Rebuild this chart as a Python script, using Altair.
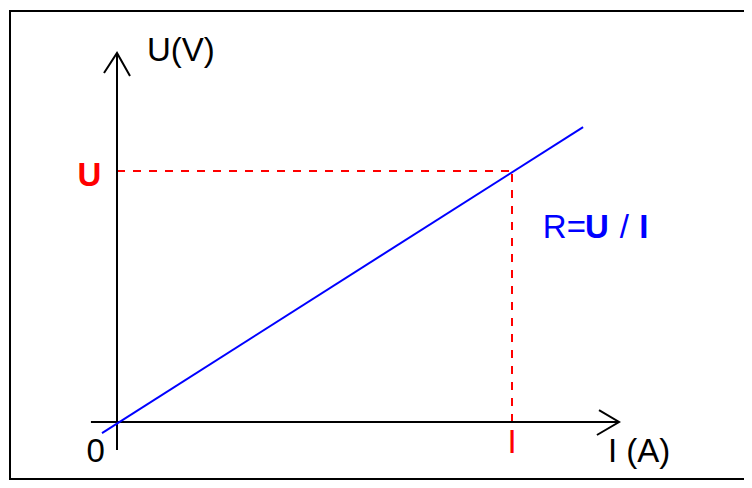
import altair as alt
import pandas as pd

# Data units: I in "I-units", U in "U-units" (working point at I=1, U=1)
line_I = [-0.038, 1.18]
line_U = [-0.044, 1.175]

work_I = 1.0
work_U = 1.0

# axis extents (data units)
xaxis_I = [-0.066, 1.271]
yaxis_U = [-0.112, 1.470]

# labels
labels = pd.DataFrame({
    "I": [0.076, -0.070, -0.054, 1.243, 1.0, 1.078, 1.185, 1.273, 1.322],
    "U": [1.438, 0.940, -0.159, -0.159, -0.1235, 0.733, 0.733, 0.733, 0.733],
    "text": ["U(V)", "U", "0", "I (A)", "I", "R=", "U", "/", "I"],
    "color": ["black", "red", "black", "black", "red", "blue", "blue", "blue", "blue"],
    "weight": ["normal", "bold", "normal", "normal", "normal", "normal", "bold", "normal", "bold"],
    "align": ["left", "center", "center", "left", "center", "left", "left", "left", "left"],
})

W, H = 736, 472
XD = [-0.27595, 1.58734]
YD = [-0.23108, 1.64940]
xs = alt.Scale(domain=XD, nice=False, zero=False)
ys = alt.Scale(domain=YD, nice=False, zero=False)

def X(f="I"):
    return alt.X(f"{f}:Q", scale=xs, axis=None)

def Y(f="U"):
    return alt.Y(f"{f}:Q", scale=ys, axis=None)

one = pd.DataFrame({"k": [0]})

# outer frame (left, top, bottom)
frame = [
    alt.Chart(one).mark_rule(color="black", strokeWidth=2).encode(
        x=alt.value(2), y=alt.value(3), y2=alt.value(H - 1)),
    alt.Chart(one).mark_rule(color="black", strokeWidth=2).encode(
        x=alt.value(1), x2=alt.value(W), y=alt.value(3)),
    alt.Chart(one).mark_rule(color="black", strokeWidth=2).encode(
        x=alt.value(1), x2=alt.value(W), y=alt.value(H - 1)),
]

# axes
xaxis = alt.Chart(pd.DataFrame({"I": [xaxis_I[0]], "I2": [xaxis_I[1]], "U": [0.0]})).mark_rule(
    color="black", strokeWidth=2
).encode(x=X(), x2="I2:Q", y=Y())

yaxis = alt.Chart(pd.DataFrame({"U": [yaxis_U[0]], "U2": [yaxis_U[1]], "I": [0.0]})).mark_rule(
    color="black", strokeWidth=2
).encode(y=Y(), y2="U2:Q", x=X())

# arrowheads
arrow_up = alt.Chart(pd.DataFrame({"I": [0.0], "U": [yaxis_U[1] - 0.044]})).mark_point(
    shape="M -1 0.69 L 0 -0.85 L 1 0.92", filled=False, color="black", strokeWidth=2, size=676, opacity=1
).encode(x=X(), y=Y())

arrow_right = alt.Chart(pd.DataFrame({"I": [xaxis_I[1] - 0.028], "U": [0.0]})).mark_point(
    shape="M -0.69 -0.92 L 0.85 0 L -0.85 1", filled=False, color="black", strokeWidth=2, size=676, opacity=1
).encode(x=X(), y=Y())

# characteristic line
line = alt.Chart(pd.DataFrame({"I": line_I, "U": line_U})).mark_line(
    color="#0000FF", strokeWidth=2
).encode(x=X(), y=Y())

# dashed guides
hdash = alt.Chart(pd.DataFrame({"I": [0.0], "I2": [work_I], "U": [work_U]})).mark_rule(
    color="#FF0000", strokeWidth=2, strokeDash=[8, 8]
).encode(x=X(), x2="I2:Q", y=Y())

vdash = alt.Chart(pd.DataFrame({"U": [0.0], "U2": [work_U], "I": [work_I]})).mark_rule(
    color="#FF0000", strokeWidth=2, strokeDash=[8, 8]
).encode(y=Y(), y2="U2:Q", x=X())

texts = []
for _, r in labels.iterrows():
    texts.append(
        alt.Chart(pd.DataFrame([r])).mark_text(
            font="Liberation Sans", fontSize=33, fontWeight=r["weight"], color=r["color"],
            align=r["align"], baseline="alphabetic"
        ).encode(x=X(), y=Y(), text="text:N")
    )

chart = alt.layer(
    *frame, hdash, vdash, xaxis, yaxis, arrow_up, arrow_right, line, *texts
).properties(
    width=W, height=H,
    padding=0,
    autosize=alt.AutoSizeParams(type="none"),
    background="white",
).configure_view(stroke="transparent", strokeWidth=0)

chart.save("out.html", embed_options={"renderer": "svg", "actions": False})
